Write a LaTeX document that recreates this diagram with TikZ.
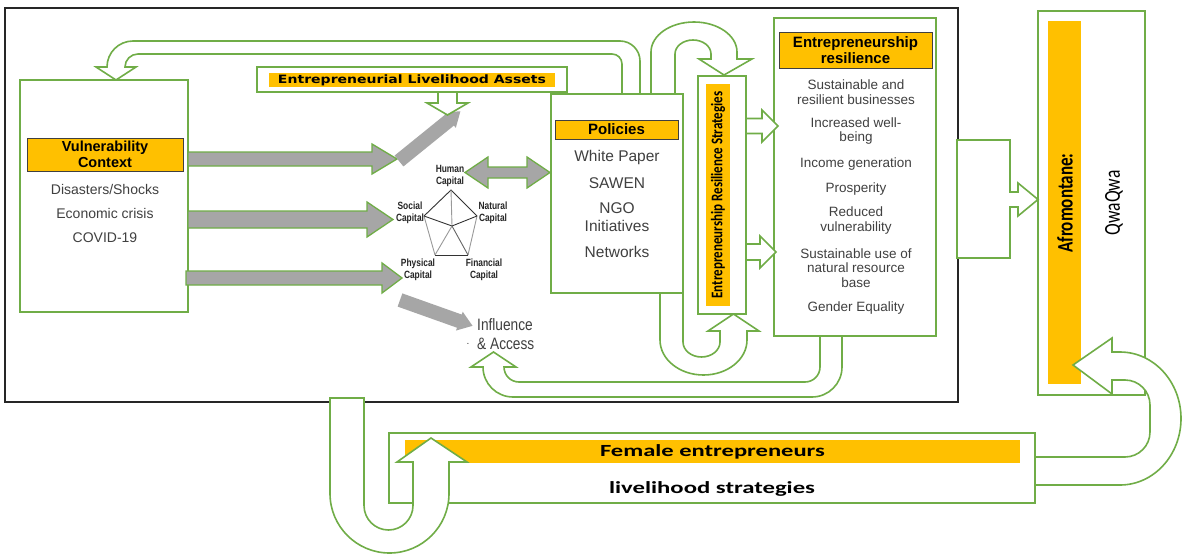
\documentclass[tikz,border=0pt]{standalone}
\usepackage{fontspec}
\setmainfont{Liberation Sans}
\newfontfamily\calibri{Carlito}
\newfontfamily\verd{DejaVu Sans}
\usepackage{graphicx}
\definecolor{gr}{HTML}{70AD47}
\definecolor{orng}{HTML}{FFC000}
\definecolor{arrg}{HTML}{A6A6A6}
\definecolor{txt}{HTML}{404040}
\newcommand\fs[2]{\fontsize{#1}{#2}\selectfont}
\newcommand\nar[1]{\scalebox{0.8}[1]{#1}}
\begin{document}
\begin{tikzpicture}[x=1pt,y=-1pt,
  gbox/.style={draw=gr, line width=1.6pt, fill=white, inner sep=0pt},
  obar/.style={fill=orng, inner sep=0pt},
  hdr/.style={draw=txt, fill=orng, line width=1pt, inner sep=0pt, align=center, text=black},
  hollow/.style={draw=gr, line width=1.6pt, fill=white, line join=miter},
  grayarr/.style={draw=gr, line width=1.3pt, fill=arrg, line join=miter},
  item/.style={text=txt, align=center, inner sep=0pt},
  caplabel/.style={text=black!85, align=center, inner sep=0pt, font=\fs{10.5}{12.5}\bfseries},
  pdark/.style={draw=black!80, line width=0.9pt},
  plight/.style={draw=black!40, line width=0.9pt}]
\useasboundingbox (0,0) rectangle (1183,554);
\fill[white] (0,0) rectangle (1183,554);
% outer frame
\draw[line width=1.1pt, black!85] (5,8) rectangle (958,402);

% Vulnerability box
\node[gbox, minimum width=168, minimum height=232] (vuln) at (104,196) {};
\node[hdr, minimum width=156, minimum height=33, font=\fs{14.5}{15.5}\bfseries] (vhead) at (105,154.5) {Vulnerability\\Context};
\node[item, font=\fs{14}{16}] (v1) at (105,189) {Disasters/Shocks};
\node[item, font=\fs{14}{16}] (v2) at (105,213) {Economic crisis};
\node[item, font=\fs{14}{16}] (v3) at (105,238) {COVID-19};

% Entrepreneurial Livelihood Assets
\node[gbox, minimum width=310, minimum height=25] (assets) at (412,79.5) {};
\node[obar, minimum width=286, minimum height=14] (assetsbar) at (412,80) {\resizebox{268pt}{\height}{\verd\bfseries\fs{11.5}{13}Entrepreneurial Livelihood Assets}};

% Policies
\node[gbox, minimum width=132, minimum height=199] (pol) at (617,193.5) {};
\node[hdr, minimum width=123, minimum height=19, font=\fs{15}{16}\bfseries] (polhead) at (616.5,129.5) {Policies};
\node[item, font=\fs{15.5}{17}] (p1) at (617,157) {White Paper};
\node[item, font=\fs{15.5}{17}] (p2) at (617,183) {SAWEN};
\node[item, font=\fs{15.5}{18}] (p3) at (617,217) {NGO\\Initiatives};
\node[item, font=\fs{15.5}{17}] (p4) at (617,252) {Networks};

% Entrepreneurship Resilience Strategies
\node[gbox, minimum width=48, minimum height=238] (ers) at (722,195) {};
\node[obar, minimum width=24, minimum height=222] (ersbar) at (718,195) {};
\node[rotate=90, inner sep=0pt] (erstext) at (718,195) {\scalebox{1}[1.25]{\calibri\bfseries\fs{13}{15}Entrepreneurship Resilience Strategies}};

% Entrepreneurship resilience
\node[gbox, minimum width=162, minimum height=318] (er) at (855,177) {};
\node[hdr, minimum width=153, minimum height=36, font=\fs{15}{16}\bfseries] (erhead) at (855.5,50) {Entrepreneurship\\resilience};
\node[item, font=\fs{13.5}{14.5}] (e1) at (856,92) {Sustainable and\\resilient businesses};
\node[item, font=\fs{13.5}{14.5}] (e2) at (856,131) {Increased well-\\being};
\node[item, font=\fs{13.5}{14.5}] (e3) at (856,164) {Income generation};
\node[item, font=\fs{13.5}{14.5}] (e4) at (856,189) {Prosperity};
\node[item, font=\fs{13.5}{14.5}] (e5) at (856,220.5) {Reduced\\vulnerability};
\node[item, font=\fs{13.5}{14.5}] (e6) at (856,268) {Sustainable use of\\natural resource\\base};
\node[item, font=\fs{13.5}{14.5}] (e7) at (856,308) {Gender Equality};

% Afromontane
\node[gbox, minimum width=107, minimum height=384] (afro) at (1091.5,203) {};
\node[obar, minimum width=33, minimum height=363] (afrobar) at (1064.5,202.5) {};
\node[rotate=90, inner sep=0pt] (afrotext) at (1065,203) {\scalebox{1}[1.3]{\calibri\bfseries\fs{17}{19}Afromontane:}};
\node[rotate=90, inner sep=0pt] (qwa) at (1114,203) {\scalebox{1}[1.3]{\calibri\fs{17.5}{19}QwaQwa}};

% Female entrepreneurs
\node[gbox, minimum width=646, minimum height=70] (fem) at (712,468) {};
\node[obar, minimum width=615, minimum height=23] (fembar) at (712.5,451.5) {\resizebox{225pt}{\height}{\calibri\bfseries\fs{17}{20}Female entrepreneurs}};
\node[inner sep=0pt] (femtext) at (712,489) {\resizebox{206pt}{\height}{\calibri\bfseries\fs{17}{20}livelihood strategies}};

% gray arrows from vulnerability context
\draw[grayarr] (188,152) -- (372,152) -- (372,144) -- (397,159) -- (372,174) -- (372,166) -- (188,166) -- cycle;
\draw[grayarr] (188,211) -- (367,211) -- (367,202) -- (393,219.5) -- (367,237) -- (367,228) -- (188,228) -- cycle;
\draw[grayarr] (186,271) -- (382,271) -- (382,263) -- (402,278) -- (382,293) -- (382,285) -- (186,285) -- cycle;
\begin{scope}[shift={(399,161)}, rotate=39]
  \fill[arrg] (0,-7) -- (65,-7) -- (65,-10) -- (79,0) -- (65,10) -- (65,7) -- (0,7) -- cycle;
\end{scope}
\begin{scope}[shift={(400,300)}, rotate=-19.6]
  \fill[arrg] (0,-7) -- (63,-7) -- (63,-10) -- (77,0) -- (63,10) -- (63,7) -- (0,7) -- cycle;
\end{scope}
% double arrow human capital <-> policies
\draw[grayarr] (465,172.5) -- (488,157) -- (488,167) -- (527,167) -- (527,157) -- (550,172.5) -- (527,188) -- (527,178) -- (488,178) -- (488,188) -- cycle;

% pentagon
\coordinate (pT) at (451,190);
\coordinate (pR) at (477,216);
\coordinate (pBR) at (468,255);
\coordinate (pBL) at (435,255);
\coordinate (pL) at (424,216);
\coordinate (pC) at (452,226);
\draw[pdark] (pL) -- (pT) -- (pR);
\draw[plight] (pR) -- (pBR);
\draw[pdark] (pBR) -- (pBL);
\draw[plight] (pBL) -- (pL);
\draw[plight] (pC) -- (pT);
\draw[pdark] (pL) -- (pC) -- (pR);
\draw[plight] (pC) -- (pBL);
\draw[black!60, line width=0.9pt] (pC) -- (pBR);
\node[caplabel] (hum) at (450,176) {\nar{Human}\\\nar{Capital}};
\node[caplabel] (soc) at (410,213) {\nar{Social}\\\nar{Capital}};
\node[caplabel] (nat) at (493,213) {\nar{Natural}\\\nar{Capital}};
\node[caplabel] (phy) at (418,270) {\nar{Physical}\\\nar{Capital}};
\node[caplabel] (fin) at (484,270) {\nar{Financial}\\\nar{Capital}};

% influence & access
\node[text=txt, align=left, inner sep=0pt, anchor=west, font=\fs{16.5}{18.5}] (infl) at (477,334) {\scalebox{0.83}[1]{Influence}\\\scalebox{0.83}[1]{\& Access}};
\node[text=txt, inner sep=0pt, font=\fs{10}{11}] (dot) at (468,344) {.};

% hollow arrows
\draw[hollow] (438,92) -- (438,103) -- (427,103) -- (447.5,115) -- (468,103) -- (457,103) -- (457,92) -- cycle;
\draw[hollow] (746,118.5) -- (762,118.5) -- (762,110) -- (778,126) -- (762,142) -- (762,133.5) -- (746,133.5) -- cycle;
\draw[hollow] (746,244) -- (760,244) -- (760,236) -- (776,252) -- (760,268) -- (760,260) -- (746,260) -- cycle;
% big top loop: policies -> vulnerability
\draw[hollow] (640,94) -- (640,61) arc[start angle=0,end angle=-90,radius=20] -- (133,41) arc[start angle=-90,end angle=-180,radius=26] -- (96,67) -- (116,80) -- (136,67) -- (125,67) arc[start angle=180,end angle=270,radius=13] -- (612,54) arc[start angle=270,end angle=360,radius=10] -- (622,94) -- cycle;
% top small U: policies -> ERS
\draw[hollow] (651,94) -- (651,52) arc[start angle=180,end angle=360,x radius=43,y radius=30] -- (737,59) -- (752,59) -- (724,75) -- (699,59) -- (711,59) -- (711,54) arc[start angle=0,end angle=-180,x radius=18,y radius=14] -- (675,94) -- cycle;
% bottom small U: policies -> ERS
\draw[hollow] (660,293) -- (660,340) arc[start angle=180,end angle=0,x radius=43.5,y radius=35] -- (747,331) -- (759,331) -- (733.5,314) -- (708,331) -- (720,331) -- (720,342) arc[start angle=0,end angle=180,x radius=18.5,y radius=15] -- (683,293) -- cycle;
% bottom big loop: ER -> influence
\draw[hollow] (842,336) -- (842,367) arc[start angle=0,end angle=90,radius=30] -- (513,397) arc[start angle=90,end angle=180,radius=30] -- (471,367) -- (493.5,352) -- (516,367) -- (504,367) arc[start angle=180,end angle=90,radius=15] -- (805,382) arc[start angle=90,end angle=0,radius=15] -- (820,336) -- cycle;
% ER -> Afromontane
\draw[hollow] (957,140) -- (1010,140) -- (1010,192) -- (1018,192) -- (1018,183) -- (1038,199.5) -- (1018,216) -- (1018,207) -- (1010,207) -- (1010,258) -- (957,258) -- cycle;
% bottom-left U: into female entrepreneurs
\draw[hollow] (330,398) -- (330,493.5) arc[start angle=180,end angle=0,radius=59.5] -- (449,462) -- (467,462) -- (431,438) -- (397,462) -- (413,462) -- (413,505.5) arc[start angle=0,end angle=180,radius=24.5] -- (364,398) -- cycle;
% bottom-right U: female entrepreneurs -> Afromontane
\draw[hollow] (1035,485) -- (1120,485) arc[start angle=90,end angle=-90,x radius=61,y radius=66.5] -- (1112,352) -- (1112,338) -- (1073,365) -- (1112,394) -- (1112,380) -- (1125,380) arc[start angle=-90,end angle=0,radius=25] -- (1150,432) arc[start angle=0,end angle=90,radius=25] -- (1035,457) -- cycle;
\end{tikzpicture}
\end{document}
